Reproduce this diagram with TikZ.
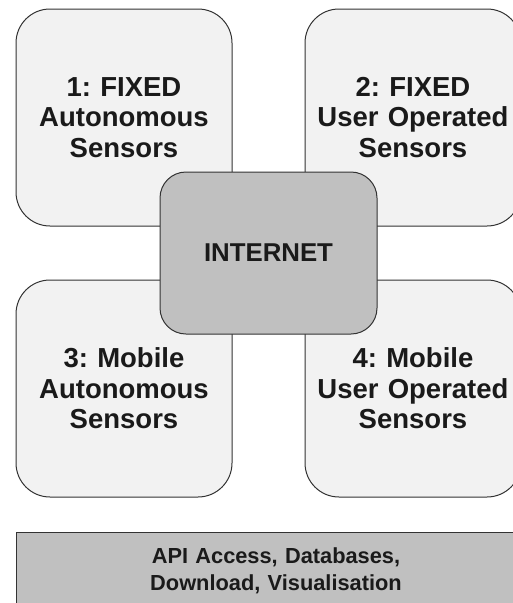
\documentclass[tikz,border=0pt]{standalone}
\usepackage{fontspec}
\setmainfont{Liberation Sans}
\usepackage{tikz}
\usetikzlibrary{positioning}
\usepackage{xcolor}
\frenchspacing
\definecolor{boxfill}{HTML}{F2F2F2}
\definecolor{netfill}{HTML}{C0C0C0}
\definecolor{edgegray}{HTML}{333333}
\definecolor{textgray}{HTML}{1A1A1A}
\tikzstyle{sensor} = [rectangle, rounded corners=34pt, minimum width=216pt, minimum height=217pt, text width=214pt, align=center, inner sep=0pt, draw=edgegray, line width=1pt, fill=boxfill, text=textgray, font=\fontsize{27.5}{30.5}\selectfont\bfseries]
\tikzstyle{internet} = [rectangle, rounded corners=26pt, minimum width=217pt, minimum height=162pt, align=center, draw=edgegray, line width=1pt, fill=netfill, text=textgray, font=\fontsize{25.8}{30}\selectfont\bfseries]
\tikzstyle{service} = [rectangle, minimum width=520pt, minimum height=78pt, text width=510pt, align=center, inner sep=0pt, draw=edgegray, line width=1pt, fill=netfill, text=textgray, font=\fontsize{21.8}{26.5}\selectfont\bfseries]

\begin{document}
\begin{tikzpicture}[x=1pt, y=-1pt]
    \useasboundingbox (0,0) rectangle (513,603);
    \clip (0,0) rectangle (513,603);
    % Sensor boxes
    \node (fixauto) [sensor] at (124,117.5) {1: FIXED\\Autonomous\\Sensors};
    \node (fixuser) [sensor] at (413,117.5) {2: FIXED\\User Operated\\Sensors};
    \node (mobauto) [sensor] at (124,388.5) {3: Mobile\\Autonomous\\Sensors};
    \node (mobuser) [sensor] at (413,388.5) {4: Mobile\\User Operated\\Sensors};
    % Internet on top
    \node (internet) [internet] at (268.5,253) {INTERNET};
    % Services bar
    \node (access) [service] at (276,571) {API Access, Databases,\\Download, Visualisation};
\end{tikzpicture}
\end{document}
